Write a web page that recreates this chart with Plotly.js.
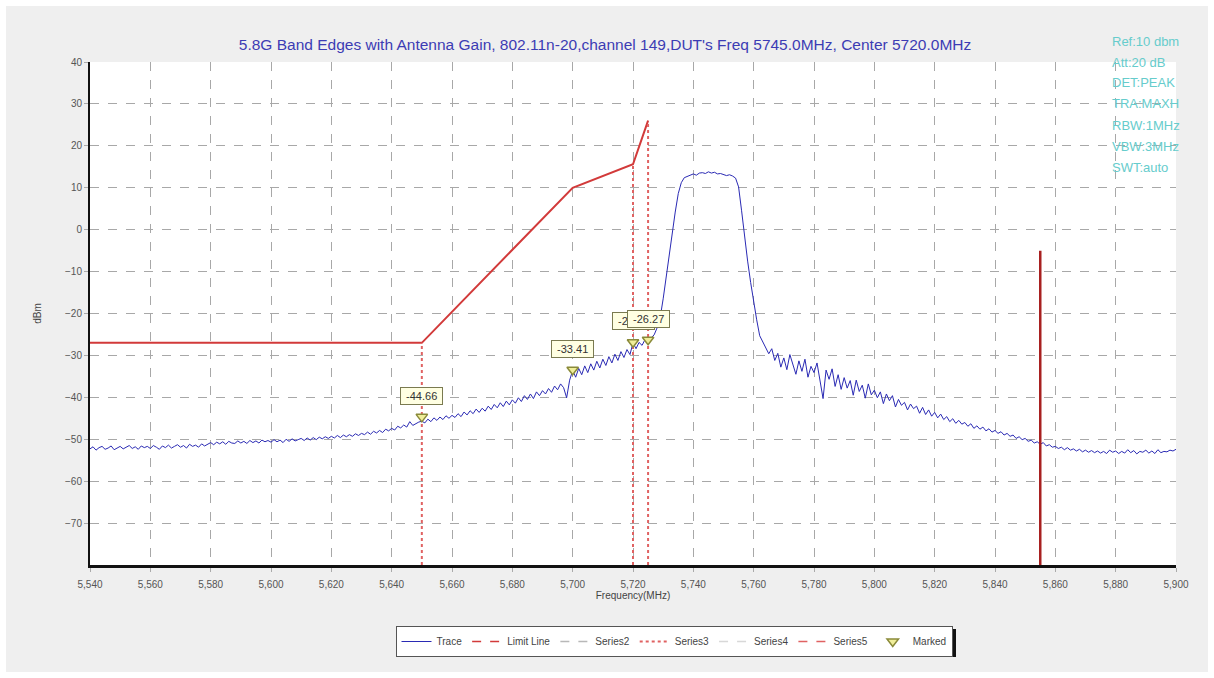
<!DOCTYPE html>
<html>
<head>
<meta charset="utf-8">
<script src="https://cdn.plot.ly/plotly-3.0.1.min.js"></script>
<style>
html,body{margin:0;padding:0;background:#ffffff;}
#chart{width:1214px;height:678px;}
</style>
</head>
<body>
<div id="chart"></div>
<script>
// ---- Data ----
const chartTitle = "5.8G Band Edges with Antenna Gain, 802.11n-20,channel 149,DUT's Freq 5745.0MHz, Center 5720.0MHz";
const infoLines = ["Ref:10 dbm", "Att:20 dB", "DET:PEAK", "TRA:MAXH", "RBW:1MHz", "VBW:3MHz", "SWT:auto"];

// Measured trace: one sample per MHz starting at 5540 MHz
const traceStartMHz = 5540;
const traceStepMHz = 1;
const traceVals = [
  -52.3,-51.8,-52.6,-52.0,-51.7,-52.4,-52.1,-51.6,-52.5,-52.0,
  -51.7,-52.3,-51.9,-51.5,-52.2,-51.8,-52.4,-51.6,-52.0,-51.7,
  -52.2,-51.5,-51.9,-52.4,-51.6,-52.0,-51.4,-52.1,-51.7,-51.3,
  -51.9,-51.5,-52.1,-51.2,-51.7,-51.4,-51.9,-51.1,-51.6,-51.2,
  -50.8,-51.3,-50.7,-51.1,-50.6,-51.2,-50.5,-50.9,-51.0,-50.4,
  -50.9,-50.5,-51.0,-50.3,-50.8,-50.4,-50.9,-50.2,-50.6,-50.3,
  -50.7,-50.1,-50.6,-50.2,-50.8,-50.0,-50.5,-49.9,-50.4,-50.1,
  -49.8,-50.3,-49.7,-50.2,-49.6,-50.1,-49.5,-49.9,-49.4,-49.8,
  -49.3,-49.7,-49.1,-49.6,-49.0,-49.4,-48.9,-49.3,-48.7,-49.1,
  -48.6,-48.9,-48.3,-48.8,-48.1,-48.5,-47.9,-48.4,-47.6,-48.0,
  -47.4,-47.8,-46.9,-47.3,-46.6,-47.1,-45.8,-46.7,-46.2,-45.9,
  -45.7,-46.1,-45.2,-45.8,-44.9,-45.5,-44.7,-45.3,-44.4,-45.0,
  -44.3,-44.8,-43.9,-44.6,-43.5,-44.2,-43.2,-43.9,-42.8,-43.6,
  -42.6,-43.3,-42.1,-42.9,-41.7,-42.5,-41.3,-42.2,-40.9,-41.8,
  -40.6,-41.4,-40.1,-41.0,-39.6,-40.5,-39.2,-40.3,-38.7,-39.6,
  -38.4,-39.2,-37.9,-38.8,-37.3,-38.2,-36.8,-37.7,-40.1,-35.9,
  -33.6,-35.2,-33.1,-34.6,-32.5,-34.1,-32.0,-33.5,-31.4,-33.0,
  -30.9,-32.4,-30.3,-31.8,-29.7,-31.2,-29.1,-30.5,-28.6,-29.8,
  -27.0,-28.4,-26.9,-27.6,-26.2,-26.5,-25.8,-25.1,-23.4,-21.0,
  -16.5,-11.2,-5.8,-0.5,4.2,8.6,11.2,12.4,12.7,13.1,
  13.3,13.0,13.5,13.6,13.4,13.8,13.5,13.7,13.3,13.4,
  13.2,12.9,13.1,12.8,12.3,10.2,4.5,-1.8,-7.5,-12.6,
  -17.4,-21.5,-25.3,-26.8,-27.9,-29.6,-28.4,-31.2,-29.5,-32.8,
  -30.6,-33.4,-29.8,-32.1,-34.5,-31.3,-33.8,-30.9,-35.2,-32.6,
  -34.1,-31.8,-36.2,-40.3,-33.5,-35.7,-33.2,-37.4,-34.6,-38.1,
  -35.3,-37.8,-36.0,-39.5,-35.9,-38.6,-37.1,-40.2,-36.8,-39.4,
  -38.3,-40.1,-38.7,-41.5,-39.2,-40.8,-39.6,-42.3,-40.5,-41.9,
  -41.2,-43.0,-41.6,-42.7,-42.1,-43.8,-42.4,-44.1,-43.0,-44.5,
  -43.6,-44.9,-44.0,-45.3,-44.6,-45.8,-45.1,-46.2,-45.5,-46.4,
  -46.0,-46.9,-46.3,-47.4,-46.8,-47.6,-47.1,-48.0,-47.5,-48.3,
  -47.9,-48.6,-48.2,-49.0,-48.6,-49.3,-49.0,-49.8,-49.4,-50.1,
  -49.8,-50.5,-50.2,-50.9,-50.6,-51.2,-50.8,-51.6,-51.3,-51.9,
  -51.7,-52.2,-51.9,-52.5,-52.0,-52.6,-52.3,-52.8,-52.4,-53.0,
  -52.6,-53.1,-52.7,-53.2,-52.8,-53.3,-52.9,-53.4,-52.6,-53.1,
  -52.8,-53.4,-52.9,-53.3,-52.5,-53.2,-52.7,-53.5,-52.9,-53.1,
  -52.6,-53.3,-52.8,-53.4,-52.5,-53.2,-52.9,-53.0,-52.6,-52.8,
  -52.4
];

// Limit line
const limitFreq = [5540, 5650, 5700, 5720, 5725];
const limitVal  = [-27, -27, 10, 15.6, 26];

// Vertical marker lines
const series3Freq = [5650, 5720, 5725];
const series3Top  = [-27, 15.6, 26];
const series5Freq = [5855];
const series5Top  = [-5];
const axisBottom = -80;

// Marked points
const markFreq = [5650, 5700, 5720, 5725];
const markVal  = [-44.66, -33.41, -26.84, -26.27];

// Axis ticks
const yTickVals = [-70, -60, -50, -40, -30, -20, -10, 0, 10, 20, 30, 40];

// ---- Build traces ----
const traceFreq = traceVals.map((v, i) => traceStartMHz + i * traceStepMHz);

function verticals(freqs, tops) {
  const xs = [], ys = [];
  freqs.forEach((f, i) => { xs.push(f, f, null); ys.push(axisBottom, tops[i], null); });
  return {xs, ys};
}
const s3 = verticals(series3Freq, series3Top);
const s5 = verticals(series5Freq, series5Top);

const data = [
  {name:'Trace', x:traceFreq, y:traceVals, type:'scatter', mode:'lines',
   line:{color:'#2a2ab4', width:1}},
  {name:'Limit Line', x:limitFreq, y:limitVal, type:'scatter', mode:'lines',
   line:{color:'#d23a3a', width:2}, showlegend:false},
  {name:'Limit Line', x:[null], y:[null], type:'scatter', mode:'lines',
   line:{color:'#d23a3a', width:1.5, dash:'dash'}},
  {name:'Series2', x:[null], y:[null], type:'scatter', mode:'lines',
   line:{color:'#b8b8b8', width:1.5, dash:'dash'}},
  {name:'Series3', x:s3.xs, y:s3.ys, type:'scatter', mode:'lines',
   line:{color:'#e06262', width:2, dash:'3px,3px'}},
  {name:'Series4', x:[null], y:[null], type:'scatter', mode:'lines',
   line:{color:'#d8d8d8', width:1.5, dash:'dash'}},
  {name:'Series5', x:s5.xs, y:s5.ys, type:'scatter', mode:'lines',
   line:{color:'#a82020', width:2.5}, showlegend:false},
  {name:'Series5', x:[null], y:[null], type:'scatter', mode:'lines',
   line:{color:'#e06262', width:1.5, dash:'dash'}},
  {name:'Marked', x:markFreq, y:markVal, type:'scatter', mode:'markers',
   marker:{symbol:'triangle-down', size:10, color:'#f0ee9a', line:{color:'#8a8a3a', width:1.5}}}
];

// ---- Annotations ----
const L = 90, R = 1176, T = 62, B = 565;
const px2x = px => (px - L) / (R - L);
const px2y = py => (B - py) / (B - T);

const annotations = [];
markFreq.forEach((f, i) => {
  annotations.push({
    x:f, y:markVal[i], xref:'x', yref:'y', showarrow:false, yshift:21,
    text:'&nbsp;' + markVal[i].toFixed(2) + '&nbsp;',
    font:{family:'Liberation Sans, Arial, sans-serif', size:11, color:'#333333'},
    bgcolor:'#ffffe2', bordercolor:'#7a7a50', borderwidth:1, borderpad:2
  });
});
infoLines.forEach((t, i) => {
  annotations.push({
    x:px2x(1110), y:px2y(41 + i*21), xref:'paper', yref:'paper',
    xanchor:'left', yanchor:'middle', showarrow:false, text:t,
    font:{family:'Liberation Sans, Arial, sans-serif', size:13, color:'#66cccc'}
  });
});

const layout = {
  width:1214, height:678,
  margin:{l:L, r:1214-R, t:T, b:678-B, pad:0},
  paper_bgcolor:'#efefef',
  plot_bgcolor:'#ffffff',
  font:{family:'Liberation Sans, Arial, sans-serif'},
  title:{text:chartTitle, x:605/1214, xref:'container', xanchor:'center',
         y:1-45/678, yref:'container', yanchor:'middle',
         font:{family:'Liberation Sans, Arial, sans-serif', size:15.5, color:'#3c3cb4'}},
  xaxis:{range:[5540, 5900], tick0:5540, dtick:20, tickformat:',d',
         showgrid:true, gridcolor:'#a8a8a8', griddash:'dash', gridwidth:1,
         showline:true, linecolor:'#111111', linewidth:3, zeroline:false,
         ticks:'outside', ticklen:4, tickcolor:'#aaaaaa', ticklabelstandoff:4,
         tickfont:{size:10, color:'#555555'},
         title:{text:'Frequency(MHz)', font:{size:10, color:'#444444'}, standoff:2}},
  yaxis:{range:[-80, 40], tickmode:'array', tickvals:yTickVals,
         showgrid:true, gridcolor:'#a8a8a8', griddash:'dash', gridwidth:1,
         showline:true, linecolor:'#111111', linewidth:2, zeroline:false,
         ticks:'outside', ticklen:4, tickcolor:'#aaaaaa',
         tickfont:{size:10, color:'#555555'},
         title:{text:'dBm', font:{size:10, color:'#444444'}, standoff:22}},
  showlegend:true,
  legend:{orientation:'h', x:px2x(674), xanchor:'center', y:px2y(626), yanchor:'top',
          bgcolor:'#ffffff', bordercolor:'#555555', borderwidth:1,
          font:{size:10, color:'#444444'}, itemwidth:30, traceorder:'normal'},
  annotations:annotations,
  shapes:[
    {type:'rect', xref:'paper', yref:'paper',
     x0:px2x(0), x1:px2x(1214), y0:px2y(678), y1:px2y(0),
     line:{color:'#ffffff', width:12}, fillcolor:'rgba(0,0,0,0)'},
    // legend drop shadow
    {type:'rect', xref:'paper', yref:'paper',
     x0:px2x(400), x1:px2x(956), y0:px2y(657), y1:px2y(654),
     line:{width:0}, fillcolor:'#111111'},
    {type:'rect', xref:'paper', yref:'paper',
     x0:px2x(953), x1:px2x(956), y0:px2y(657), y1:px2y(629),
     line:{width:0}, fillcolor:'#111111'}
  ]
};

Plotly.newPlot('chart', data, layout, {displayModeBar:false, staticPlot:true});
</script>
</body>
</html>
